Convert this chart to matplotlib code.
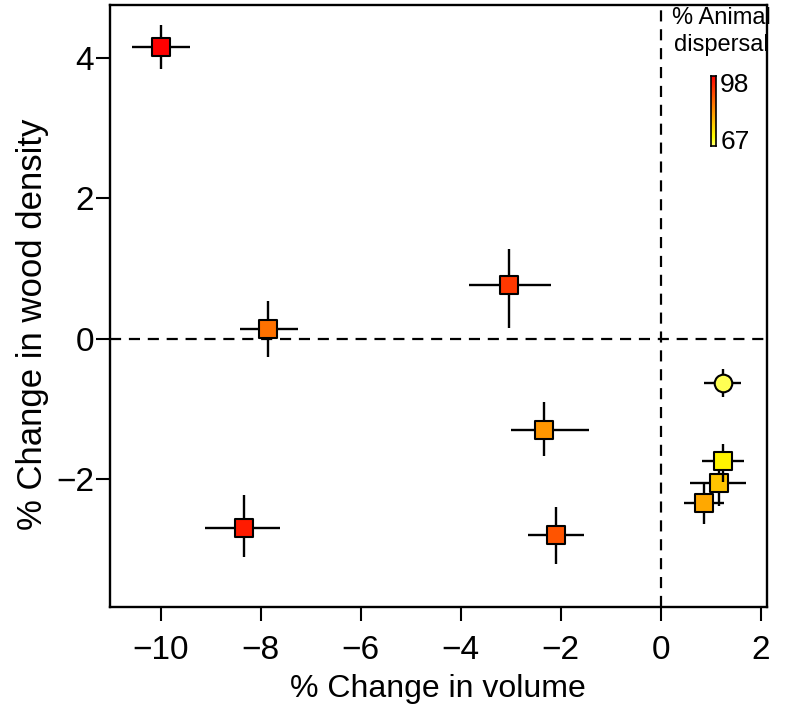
import numpy as np
import matplotlib.pyplot as plt
from matplotlib.colors import LinearSegmentedColormap, Normalize

plt.rcParams['font.family'] = ['Liberation Sans', 'DejaVu Sans']

# % change in volume and wood density per group, with asymmetric error bars
vol_change = [-10.00, -7.85, -3.03, -2.34, -8.34, -2.09, 0.86, 1.16, 1.24]
vol_err_lo = [0.58, 0.56, 0.81, 0.65, 0.77, 0.57, 0.39, 0.57, 0.41]
vol_err_hi = [0.58, 0.59, 0.84, 0.91, 0.73, 0.56, 0.40, 0.54, 0.43]
dens_change = [4.16, 0.14, 0.77, -1.31, -2.70, -2.81, -2.34, -2.06, -1.75]
dens_err_lo = [0.31, 0.41, 0.62, 0.37, 0.42, 0.40, 0.30, 0.33, 0.30]
dens_err_hi = [0.32, 0.40, 0.51, 0.40, 0.47, 0.41, 0.27, 0.30, 0.25]
animal_disp = [98, 86, 92, 82, 95, 89, 80, 77, 72]

# the single circle point
circ_vol, circ_vol_err = 1.24, 0.37
circ_dens, circ_dens_err = -0.64, 0.20
circ_disp = 68

disp_min, disp_max = 67, 98

cmap = LinearSegmentedColormap.from_list(
    'heat', [(0.0, '#FFFF70'), (0.12, '#FFFF00'), (1.0, '#FF0000')])
norm = Normalize(disp_min, disp_max)

fig = plt.figure(figsize=(7.88, 7.08), dpi=100)
ax = fig.add_axes([0.139, 0.1427, 0.834, 0.8503])

ax.axhline(0, color='black', lw=1.6, ls=(0, (5, 3.5)), zorder=1)
ax.axvline(0, color='black', lw=1.6, ls=(0, (5, 3.5)), zorder=1)

ax.errorbar(circ_vol, circ_dens, xerr=circ_vol_err, yerr=circ_dens_err,
            fmt='none', ecolor='black', elinewidth=1.7, capsize=0, zorder=2)
ax.scatter([circ_vol], [circ_dens], marker='o', s=160, c=[circ_disp],
           cmap=cmap, norm=norm, edgecolors='black', linewidths=1.5, zorder=3)

for i in range(len(vol_change)):
    ax.errorbar(vol_change[i], dens_change[i],
                xerr=[[vol_err_lo[i]], [vol_err_hi[i]]],
                yerr=[[dens_err_lo[i]], [dens_err_hi[i]]],
                fmt='none', ecolor='black', elinewidth=1.7, capsize=0,
                zorder=2 + 2 * i)
    ax.scatter([vol_change[i]], [dens_change[i]], marker='s', s=160,
               c=[animal_disp[i]], cmap=cmap, norm=norm,
               edgecolors='black', linewidths=1.5, zorder=3 + 2 * i)

ax.set_xlim(-11.02, 2.12)
ax.set_ylim(-3.83, 4.76)
ax.set_xticks([-10, -8, -6, -4, -2, 0, 2])
ax.set_yticks([-2, 0, 2, 4])
ax.set_xticklabels(['\u221210', '\u22128', '\u22126', '\u22124', '\u22122', '0', '2'])
ax.set_yticklabels(['\u22122', '0', '2', '4'])
ax.tick_params(axis='x', direction='out', length=10, width=1.5,
               labelsize=24, pad=10)
ax.tick_params(axis='y', direction='out', length=10, width=1.5,
               labelsize=24, pad=1)
for s in ax.spines.values():
    s.set_linewidth(1.7)

ax.set_xlabel('% Change in volume', fontsize=23, labelpad=6)
ax.set_ylabel('% Change in wood density', fontsize=25)
ax.yaxis.set_label_coords(-0.092, 0.47)

# colour key
cax = fig.add_axes([0.902, 0.7938, 0.0063, 0.0989])
grad = np.linspace(disp_min, disp_max, 100).reshape(-1, 1)
cax.imshow(grad, aspect='auto', cmap=cmap, norm=norm, origin='lower',
           extent=[0, 1, disp_min, disp_max])
cax.set_xticks([])
cax.set_yticks([])
for s in cax.spines.values():
    s.set_linewidth(1.2)
fig.text(0.914, 0.880, str(disp_max), fontsize=19, ha='left', va='center')
fig.text(0.914, 0.799, str(disp_min), fontsize=19, ha='left', va='center')
fig.text(0.915, 0.974, '% Animal', fontsize=17, ha='center', va='center')
fig.text(0.915, 0.936, 'dispersal', fontsize=17, ha='center', va='center')

fig.savefig('out.png', dpi=100)
plt.close(fig)
